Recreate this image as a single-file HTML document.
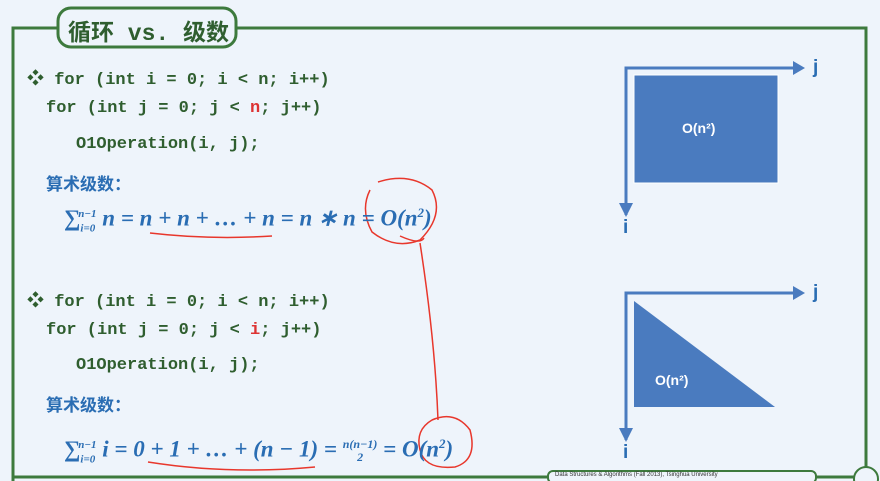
<!DOCTYPE html>
<html><head><meta charset="utf-8"><style>
body{margin:0;width:880px;height:481px;background:#eef4fb;position:relative;overflow:hidden;font-family:"Liberation Sans","Noto Sans CJK SC",sans-serif}
.t{position:absolute;white-space:nowrap}
.c{font-family:"Liberation Mono","Noto Sans CJK SC",monospace;font-weight:bold;color:#2f5e2f;font-size:17px}
.b{color:#2a6db3;font-weight:bold;font-size:17px}
.m{font-family:"Liberation Serif",serif;font-style:italic;font-weight:bold;color:#2a6db3;font-size:23px;line-height:28px}
</style></head><body>
<svg width="880" height="481" style="position:absolute;left:0;top:0">
<polyline points="13,481 13,28 866,28 866,481" fill="none" stroke="#3d7a3d" stroke-width="3"/>
<line x1="13" y1="477" x2="866" y2="477" stroke="#3d7a3d" stroke-width="3"/>
<rect x="58" y="8" width="178" height="39" rx="13" fill="#eef4fb" stroke="#3d7a3d" stroke-width="3"/>
<rect x="634" y="75" width="144" height="108" fill="#4a7bbf" stroke="#fff" stroke-width="1"/>
<polyline points="626,215 626,68 795,68" fill="none" stroke="#4a7bbf" stroke-width="3"/>
<polygon points="793,61 805,68 793,75" fill="#4a7bbf"/>
<polygon points="619,203 626,217 633,203" fill="#4a7bbf"/>
<polygon points="634,301 634,407 775,407" fill="#4a7bbf"/>
<polyline points="626,440 626,293 795,293" fill="none" stroke="#4a7bbf" stroke-width="3"/>
<polygon points="793,286 805,293 793,300" fill="#4a7bbf"/>
<polygon points="619,428 626,442 633,428" fill="#4a7bbf"/>
<g fill="none" stroke="#e8372c" stroke-width="1.5">
<path d="M150,233 Q210,240 272,236"/>
<path d="M148,462 Q230,475 315,467"/>
<path d="M378,182 Q410,172 432,190 Q445,215 420,240 Q395,250 372,232 Q360,210 370,190"/>
<path d="M400,236 Q420,245 424,238"/>
<path d="M420,243 Q435,340 438,420"/>
<path d="M432,420 Q455,410 470,430 Q478,460 455,467 Q425,470 420,450 Q415,430 432,420"/>
</g>
<rect x="548" y="471" width="268" height="12" rx="5" fill="#eef4fb" stroke="#3d7a3d" stroke-width="2"/>
<circle cx="866" cy="479" r="12" fill="#eef4fb" stroke="#3d7a3d" stroke-width="2"/>
</svg>
<div class="t" style="left:68px;top:13px;font-size:23px;font-weight:bold;color:#2f5e2f;font-family:'Liberation Mono','Noto Sans CJK SC',monospace">循环 vs. 级数</div>
<div class="t c" style="left:27px;top:64px">❖ for (int i = 0; i &lt; n; i++)</div>
<div class="t c" style="left:46px;top:99px">for (int j = 0; j &lt; <span style="color:#d33">n</span>; j++)</div>
<div class="t c" style="left:76px;top:135px">O1Operation(i, j);</div>
<div class="t b" style="left:46px;top:170px">算术级数：</div>
<div class="t m" style="left:64px;top:199px">∑<sub style="font-size:11px">i=0</sub><sup style="font-size:11px;margin-left:-17px">n−1</sup> n = n + n +  … + n = n ∗ n = O(n<sup style="font-size:13px">2</sup>)</div>
<div class="t c" style="left:27px;top:286px">❖ for (int i = 0; i &lt; n; i++)</div>
<div class="t c" style="left:46px;top:321px">for (int j = 0; j &lt; <span style="color:#d33">i</span>; j++)</div>
<div class="t c" style="left:76px;top:356px">O1Operation(i, j);</div>
<div class="t b" style="left:46px;top:391px">算术级数：</div>
<div class="t m" style="left:64px;top:430px">∑<sub style="font-size:11px">i=0</sub><sup style="font-size:11px;margin-left:-17px">n−1</sup> i = 0 + 1 +  … + (n − 1) = <span style="font-size:12px;display:inline-block;text-align:center;vertical-align:middle;line-height:13px">n(n−1)<br>2</span> = O(n<sup style="font-size:13px">2</sup>)</div>
<div class="t" style="left:682px;top:120px;color:#fff;font-weight:bold;font-size:14px">O(n²)</div>
<div class="t" style="left:655px;top:372px;color:#fff;font-weight:bold;font-size:14px">O(n²)</div>
<div class="t b" style="left:813px;top:57px;font-size:19px">j</div>
<div class="t b" style="left:623px;top:217px;font-size:19px">i</div>
<div class="t b" style="left:813px;top:282px;font-size:19px">j</div>
<div class="t b" style="left:623px;top:442px;font-size:19px">i</div>
<div class="t" style="left:555px;top:472px;font-size:6px;color:#333">Data Structures &amp; Algorithms (Fall 2013), Tsinghua University</div>
</body></html>
